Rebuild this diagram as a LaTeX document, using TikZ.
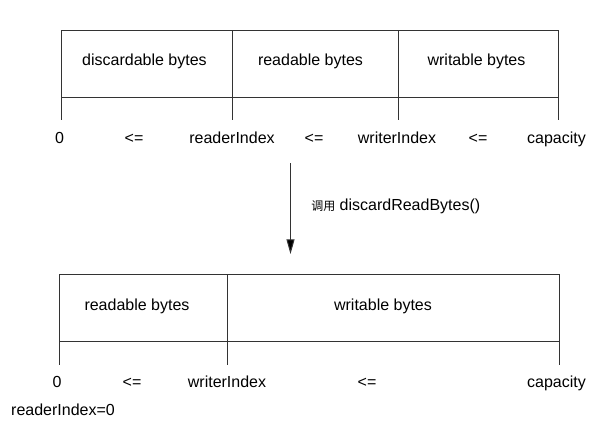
\documentclass[tikz,border=0pt]{standalone}
\usepackage{fontspec}
\setmainfont{Liberation Sans}
\newfontfamily\cjk{Noto Sans CJK SC}
\usetikzlibrary{arrows.meta}
\begin{document}
\begin{tikzpicture}[x=0.75pt,y=-0.75pt,
  lin/.style={draw=black!80,line width=0.75pt},
  cell/.style={lin,inner sep=0pt,outer sep=0pt,anchor=north west},
  txt/.style={anchor=base,inner sep=0pt,font=\fontsize{12pt}{14pt}\selectfont},
  flow/.style={lin,-{Triangle[width=6pt,length=11pt,fill=black]}}]
\useasboundingbox (0,0) rectangle (604,433);
% ---------- top buffer ----------
\node[cell,minimum width=171*0.75pt,minimum height=67*0.75pt] (c1) at (61,30) {};
\node[cell,minimum width=166*0.75pt,minimum height=67*0.75pt] (c2) at (232,30) {};
\node[cell,minimum width=160*0.75pt,minimum height=67*0.75pt] (c3) at (398,30) {};
\node[txt] at (144.5,65) {discardable bytes};
\node[txt] at (310.5,65) {readable bytes};
\node[txt] at (476.5,65) {writable bytes};
\coordinate (t1) at (61,120);
\coordinate (t2) at (232,120);
\coordinate (t3) at (398,120);
\coordinate (t4) at (558,120);
\draw[lin] (c1.south west) -- (t1);
\draw[lin] (c2.south west) -- (t2);
\draw[lin] (c3.south west) -- (t3);
\draw[lin] (c3.south east) -- (t4);
\node[txt] (a0) at (59.5,143) {0};
\node[txt] (a1) at (134,143) {<=};
\node[txt] (a2) at (232,143) {readerIndex};
\node[txt] (a3) at (314,143) {<=};
\node[txt] (a4) at (397,143) {writerIndex};
\node[txt] (a5) at (478,143) {<=};
\node[txt] (a6) at (556.5,143) {capacity};
% ---------- arrow ----------
\coordinate (ar1) at (290.5,163);
\coordinate (ar2) at (290.5,254);
\draw[flow] (ar1) -- (ar2);
\node[anchor=base west,inner sep=0pt] (op) at (311,210)
  {{\cjk\fontsize{9pt}{11pt}\selectfont 调用}\fontsize{12pt}{14pt}\selectfont\ discardReadBytes()};
% ---------- bottom buffer ----------
\node[cell,minimum width=168*0.75pt,minimum height=67*0.75pt] (d1) at (59,274) {};
\node[cell,minimum width=332*0.75pt,minimum height=67*0.75pt] (d2) at (227,274) {};
\node[txt] at (137,310) {readable bytes};
\node[txt] at (383,310) {writable bytes};
\coordinate (u1) at (59,365);
\coordinate (u2) at (227,365);
\coordinate (u3) at (559,365);
\draw[lin] (d1.south west) -- (u1);
\draw[lin] (d2.south west) -- (u2);
\draw[lin] (d2.south east) -- (u3);
\node[txt] (b0) at (57,387.5) {0};
\node[txt] (b1) at (132,387.5) {<=};
\node[txt] (b2) at (227,387.5) {writerIndex};
\node[txt] (b3) at (367,387.5) {<=};
\node[txt] (b4) at (556.5,387.5) {capacity};
\node[txt] (b5) at (63,415.5) {readerIndex=0};
\end{tikzpicture}
\end{document}
